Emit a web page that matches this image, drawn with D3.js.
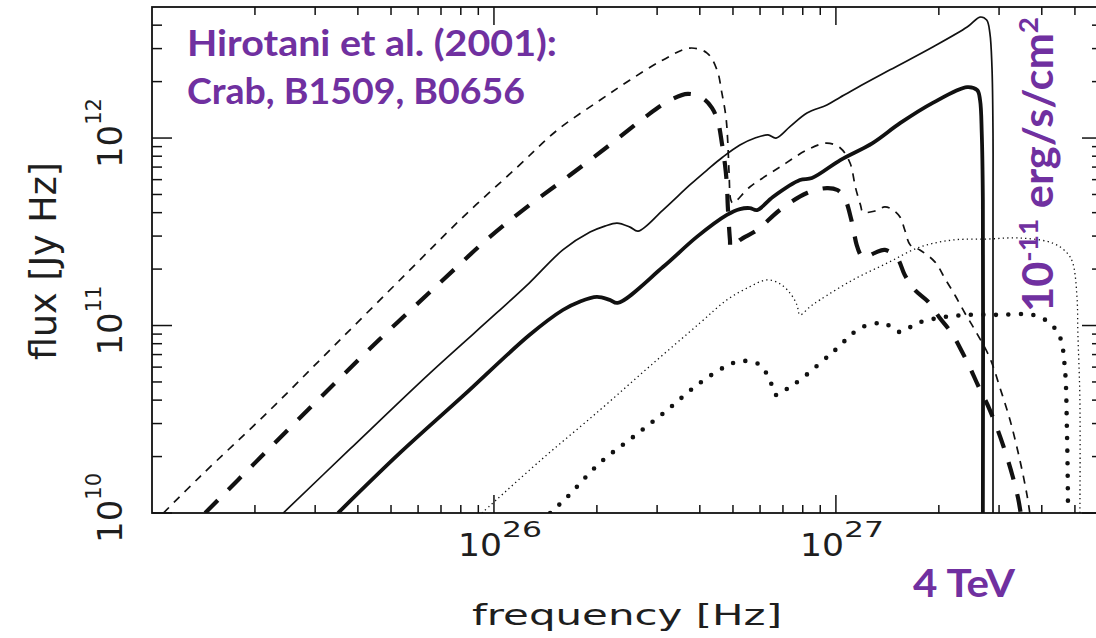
<!DOCTYPE html>
<html><head><meta charset="utf-8">
<script src="https://cdn.jsdelivr.net/npm/d3@7"></script>
<style>html,body{margin:0;padding:0;background:#fff;}svg{display:block;}</style>
</head><body><svg id="c" width="1096" height="638"></svg>
<script>
// ---------------- data ----------------
const xTickLabels = ["26", "27"];          // 10^26, 10^27
const yTickLabels = ["10", "11", "12"];    // 10^10, 10^11, 10^12
const xTitle = "frequency [Hz]";
const yTitle = "flux [Jy Hz]";
const noteLines = ["Hirotani et al. (2001):", "Crab, B1509, B0656"];
const unitNote = ["10", "-11", " erg/s/cm", "2"];
const energyNote = "4 TeV";

const thinDashFreq = [1.08e25,1.38e25,2.17e25,3.38e25,5.57e25,8.12e25,1.17e26,1.53e26,2.04e26,2.50e26,3.12e26,3.74e26,4.20e26,4.49e26,4.64e26,4.77e26,4.83e26,4.87e26,4.93e26,5.00e26,5.60e26,6.86e26,8.23e26,9.41e26,1.03e27,1.10e27,1.14e27,1.18e27,1.20e27,1.30e27,1.39e27,1.47e27,1.54e27,1.59e27,1.65e27,1.76e27,1.95e27,2.08e27,2.23e27,2.38e27,2.55e27,2.82e27,3.02e27,3.23e27,3.45e27,3.62e27,3.69e27];
const thinDashFlux = [1.00e10,1.56e10,3.42e10,7.68e10,1.91e11,3.79e11,7.00e11,1.10e12,1.59e12,2.04e12,2.61e12,3.02e12,2.84e12,2.31e12,1.74e12,1.29e12,9.40e11,6.51e11,4.67e11,4.50e11,5.48e11,7.00e11,8.63e11,9.40e11,8.85e11,7.36e11,5.48e11,4.39e11,4.03e11,4.08e11,4.29e11,4.13e11,3.79e11,3.23e11,2.69e11,2.53e11,2.18e11,1.79e11,1.45e11,1.17e11,9.46e10,6.71e10,4.64e10,3.13e10,1.92e10,1.25e10,1.00e10];

const thickDashFreq = [1.43e25,2.07e25,3.10e25,4.64e25,6.95e25,9.73e25,1.27e26,1.67e26,2.18e26,2.76e26,3.27e26,3.69e26,4.08e26,4.34e26,4.52e26,4.64e26,4.74e26,4.80e26,4.83e26,4.90e26,4.93e26,5.24e26,5.88e26,6.86e26,8.23e26,9.41e26,1.01e27,1.06e27,1.11e27,1.15e27,1.18e27,1.20e27,1.30e27,1.39e27,1.51e27,1.59e27,1.70e27,1.86e27,2.01e27,2.18e27,2.34e27,2.47e27,2.60e27,2.82e27,3.08e27,3.29e27,3.41e27,3.47e27];
const thickDashFlux = [1.00e10,1.97e10,4.11e10,8.47e10,1.69e11,2.97e11,4.39e11,6.35e11,9.18e11,1.29e12,1.59e12,1.72e12,1.63e12,1.45e12,1.22e12,9.40e11,7.18e11,5.62e11,4.29e11,2.86e11,2.59e11,2.86e11,3.23e11,4.13e11,5.09e11,5.41e11,5.28e11,4.79e11,3.65e11,2.69e11,2.38e11,2.29e11,2.44e11,2.53e11,2.29e11,1.86e11,1.55e11,1.34e11,1.10e11,9.12e10,7.22e10,5.93e10,4.82e10,3.54e10,2.31e10,1.56e10,1.20e10,1.00e10];

const thinSolidFreq = [2.42e25,3.79e25,6.50e25,1.02e26,1.27e26,1.59e26,1.91e26,2.11e26,2.29e26,2.50e26,2.64e26,3.12e26,3.74e26,4.20e26,4.67e26,5.24e26,5.80e26,6.33e26,6.68e26,7.34e26,8.23e26,9.41e26,1.03e27,1.15e27,1.44e27,1.92e27,2.42e27,2.64e27,2.76e27,2.82e27,2.86e27,2.88e27,2.88e27,2.88e27];
const thinSolidFlux = [1.00e10,2.19e10,5.58e10,1.17e11,1.69e11,2.53e11,3.15e11,3.39e11,3.52e11,3.35e11,3.19e11,4.13e11,5.62e11,6.75e11,7.92e11,9.18e11,1.00e12,1.04e12,1.00e12,1.15e12,1.36e12,1.50e12,1.65e12,1.85e12,2.31e12,3.06e12,3.91e12,4.42e12,4.26e12,3.63e12,2.39e12,1.06e12,4.67e11,1.00e10];

const thickSolidFreq = [3.50e25,5.31e25,8.12e25,1.27e26,1.59e26,1.78e26,2.00e26,2.18e26,2.30e26,3.12e26,3.92e26,4.80e26,5.24e26,5.60e26,5.88e26,6.54e26,7.85e26,8.51e26,1.03e27,1.28e27,1.54e27,1.92e27,2.42e27,2.59e27,2.64e27,2.67e27,2.69e27,2.69e27];
const thickSolidFlux = [1.00e10,2.09e10,4.21e10,8.90e10,1.21e11,1.34e11,1.42e11,1.37e11,1.32e11,2.05e11,2.97e11,3.89e11,4.18e11,4.23e11,4.13e11,4.85e11,5.97e11,6.12e11,7.63e11,9.40e11,1.20e12,1.54e12,1.87e12,1.80e12,1.59e12,1.06e12,4.67e11,1.00e10];

const thinDotFreq = [9.22e25,1.36e26,2.04e26,2.86e26,4.00e26,4.80e26,5.60e26,6.28e26,6.86e26,7.34e26,7.69e26,7.85e26,8.40e26,8.98e26,1.12e27,1.41e27,1.76e27,2.20e27,2.76e27,3.45e27,4.31e27,4.74e27,4.93e27,5.07e27,5.10e27,5.17e27,5.17e27];
const thinDotFlux = [1.00e10,1.89e10,3.54e10,6.08e10,1.03e11,1.37e11,1.61e11,1.75e11,1.67e11,1.49e11,1.29e11,1.14e11,1.26e11,1.37e11,1.75e11,2.15e11,2.62e11,2.86e11,2.89e11,2.93e11,2.75e11,2.44e11,2.15e11,1.42e11,9.12e10,4.01e10,1.00e10];

const thickDotFreq = [1.46e26,1.64e26,2.04e26,2.55e26,3.21e26,4.00e26,5.00e26,5.49e26,6.00e26,6.41e26,6.68e26,7.19e26,7.85e26,9.80e26,1.18e27,1.35e27,1.44e27,1.54e27,1.73e27,2.01e27,2.42e27,3.02e27,3.77e27,4.22e27,4.52e27,4.67e27,4.74e27,4.77e27,4.77e27];
const thickDotFlux = [1.00e10,1.22e10,1.85e10,2.54e10,3.54e10,4.94e10,6.31e10,6.47e10,6.16e10,5.12e10,4.26e10,4.59e10,5.12e10,7.22e10,9.70e10,1.03e11,9.94e10,9.23e10,1.03e11,1.10e11,1.14e11,1.14e11,1.14e11,1.03e11,8.68e10,6.01e10,2.67e10,1.17e10,1.00e10];

// ---------------- drawing ----------------
const svg = d3.select("#c");
const L = 152, R = 1102, T = 7, B = 513;
const x = d3.scaleLog().domain([1e25, 6e27]).range([L, R]);
const y = d3.scaleLog().domain([1e10, 5e12]).range([B, T]);
const ink = "#111";
const txt = "#1e1e1e";
const axisFont = "'DejaVu Sans', Verdana, sans-serif";
const noteFont = "Lato, 'Open Sans', sans-serif";
const purple = "#7030A0";

svg.append("rect").attr("width", 1096).attr("height", 638).attr("fill", "#fff");
svg.append("defs").append("clipPath").attr("id", "plot")
  .append("rect").attr("x", L).attr("y", T).attr("width", R - L).attr("height", B - T);

const series = [
  {f: thinDotFreq,   v: thinDotFlux,   w: 1.3, dash: "1.3,3.2", cap: "butt"},
  {f: thickDotFreq,  v: thickDotFlux,  w: 4.6, dash: "0,12.5", cap: "round"},
  {f: thinDashFreq,  v: thinDashFlux,  w: 1.7, dash: "8,7",   cap: "butt"},
  {f: thickDashFreq, v: thickDashFlux, w: 4.2, dash: "18,15", cap: "butt"},
  {f: thinSolidFreq, v: thinSolidFlux, w: 1.7, dash: null,    cap: "butt"},
  {f: thickSolidFreq,v: thickSolidFlux,w: 3.8, dash: null,    cap: "butt"}
];
const line = d3.line().x(d => x(d[0])).y(d => y(d[1])).curve(d3.curveCatmullRom.alpha(0.5));
const g = svg.append("g").attr("clip-path", "url(#plot)");
series.forEach(s => {
  g.append("path").attr("d", line(d3.zip(s.f, s.v)))
    .attr("fill", "none").attr("stroke", ink).attr("stroke-width", s.w)
    .attr("stroke-dasharray", s.dash).attr("stroke-linecap", s.cap)
    .attr("stroke-linejoin", "round");
});

// frame
svg.append("rect").attr("x", L).attr("y", T).attr("width", R - L).attr("height", B - T)
  .attr("fill", "none").attr("stroke", ink).attr("stroke-width", 1.8);

// ticks
const ticksG = svg.append("g").attr("stroke", ink).attr("stroke-width", 1.5);
for (let k = 25; k <= 27; k++) for (let m = 1; m <= 9; m++) {
  const v = m * Math.pow(10, k);
  if (v <= 1e25 || v >= 6e27) continue;
  const px = x(v), len = m === 1 ? 18 : 8;
  ticksG.append("line").attr("x1", px).attr("x2", px).attr("y1", B).attr("y2", B - len);
  ticksG.append("line").attr("x1", px).attr("x2", px).attr("y1", T).attr("y2", T + len);
}
for (let k = 10; k <= 12; k++) for (let m = 1; m <= 9; m++) {
  const v = m * Math.pow(10, k);
  if (v < 1e10 || v >= 5e12) continue;
  const py = y(v), len = m === 1 ? 20 : 10;
  ticksG.append("line").attr("x1", L).attr("x2", L + len).attr("y1", py).attr("y2", py);
  ticksG.append("line").attr("x1", R).attr("x2", R - len).attr("y1", py).attr("y2", py);
}

// x tick labels
xTickLabels.forEach(e => {
  const px = x(Math.pow(10, +e));
  svg.append("text").attr("x", px - 36).attr("y", 556).text("10")
    .attr("font-family", axisFont).attr("font-size", 32).attr("fill", txt)
    .attr("textLength", 44).attr("lengthAdjust", "spacingAndGlyphs");
  svg.append("text").attr("x", px + 8).attr("y", 537).text(e)
    .attr("font-family", axisFont).attr("font-size", 22).attr("fill", txt)
    .attr("textLength", 40).attr("lengthAdjust", "spacingAndGlyphs");
});
// y tick labels (rotated)
yTickLabels.forEach(e => {
  const py = y(Math.pow(10, +e));
  const t = svg.append("text").attr("transform", `translate(122,${py + 30}) rotate(-90)`)
    .attr("font-family", axisFont).attr("fill", txt);
  t.append("tspan").attr("font-size", 34).text("10");
  t.append("tspan").attr("font-size", 21).attr("dy", -21).text(e);
});

// axis titles
svg.append("text").attr("x", 472).attr("y", 625).text(xTitle)
  .attr("font-family", axisFont).attr("font-size", 29).attr("fill", txt)
  .attr("textLength", 310).attr("lengthAdjust", "spacingAndGlyphs");
svg.append("text").attr("transform", "translate(56,360) rotate(-90)").text(yTitle)
  .attr("font-family", axisFont).attr("font-size", 38).attr("fill", txt)
  .attr("textLength", 198).attr("lengthAdjust", "spacingAndGlyphs");

// purple annotations
svg.append("text").attr("x", 187).attr("y", 56).text(noteLines[0])
  .attr("font-family", noteFont).attr("font-weight", 700).attr("font-size", 37).attr("fill", purple)
  .attr("textLength", 370).attr("lengthAdjust", "spacingAndGlyphs");
svg.append("text").attr("x", 187).attr("y", 104).text(noteLines[1])
  .attr("font-family", noteFont).attr("font-weight", 700).attr("font-size", 37).attr("fill", purple)
  .attr("textLength", 338).attr("lengthAdjust", "spacingAndGlyphs");
const u = svg.append("text").attr("transform", "translate(1053,312) rotate(-90)")
  .attr("font-family", noteFont).attr("font-weight", 700).attr("fill", purple)
  .attr("textLength", 295).attr("lengthAdjust", "spacingAndGlyphs");
u.append("tspan").attr("font-size", 42).text(unitNote[0]);
u.append("tspan").attr("font-size", 27).attr("dy", -15).text(unitNote[1]);
u.append("tspan").attr("font-size", 42).attr("dy", 15).text(unitNote[2]);
u.append("tspan").attr("font-size", 27).attr("dy", -15).text(unitNote[3]);
svg.append("text").attr("x", 913).attr("y", 597).text(energyNote)
  .attr("font-family", noteFont).attr("font-weight", 700).attr("font-size", 39).attr("fill", purple)
  .attr("textLength", 102).attr("lengthAdjust", "spacingAndGlyphs");
</script></body></html>
